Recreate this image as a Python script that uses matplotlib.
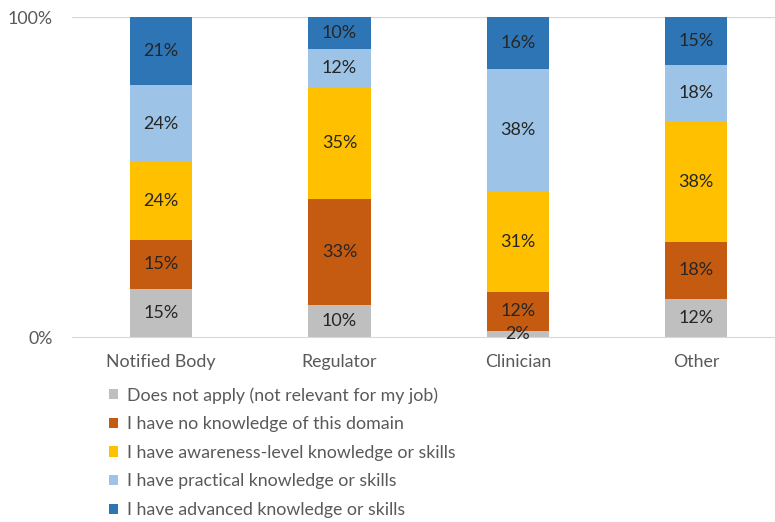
import matplotlib
matplotlib.use("Agg")
import matplotlib.pyplot as plt
import numpy as np

plt.rcParams['font.family'] = ['Lato', 'DejaVu Sans']

categories = ["Notified Body", "Regulator", "Clinician", "Other"]
series_names = [
    "Does not apply (not relevant for my job)",
    "I have no knowledge of this domain",
    "I have awareness-level knowledge or skills",
    "I have practical knowledge or skills",
    "I have advanced knowledge or skills",
]
does_not_apply = [15, 10, 2, 12]
no_knowledge = [15, 33, 12, 18]
awareness = [24, 35, 31, 38]
practical = [24, 12, 38, 18]
advanced = [21, 10, 16, 15]
colors = ["#BFBFBF", "#C55A11", "#FFC000", "#9DC3E6", "#2E75B6"]

series = np.array([does_not_apply, no_knowledge, awareness, practical, advanced], dtype=float)
totals = series.sum(axis=0)
shares = series / totals * 100  # 100% stacked

W, H = 775, 522
fig = plt.figure(figsize=(W / 100, H / 100), dpi=100)
ax = fig.add_axes([72 / W, (H - 337) / H, (775 - 72) / W, 320 / H])

x = np.arange(len(categories))
bottom = np.zeros(len(categories))
handles = []
for vals, pct, name, col in zip(series, shares, series_names, colors):
    bars = ax.bar(x, pct, 0.35, bottom=bottom, color=col, label=name, edgecolor="none")
    handles.append(bars)
    for xi, b, p, v in zip(x, bottom, pct, vals):
        ax.text(xi, b + p / 2, f"{int(v)}%", ha="center", va="center",
                fontsize=13, color="#262626")
    bottom += pct

ax.set_xlim(-0.5, -0.5 + (775 - 72) / 178.3)
ax.set_ylim(0, 100)
ax.set_yticks([0, 100])
ax.set_yticklabels(["0%", "100%"])
ax.axhline(100, color="#D9D9D9", lw=1, zorder=0)
ax.set_xticks(x)
ax.set_xticklabels(categories)
for s in ["top", "right", "left"]:
    ax.spines[s].set_visible(False)
ax.spines["bottom"].set_color("#D9D9D9")
ax.tick_params(axis="both", length=0, labelsize=12.8, colors="#595959")
ax.tick_params(axis="x", pad=12)
ax.tick_params(axis="y", pad=14)

leg = fig.legend(handles=handles, labels=series_names, loc="upper left",
                 bbox_to_anchor=(109 / W, (H - 387) / H), frameon=False,
                 fontsize=12.8, labelcolor="#595959", handlelength=0.5,
                 handleheight=0.5, handletextpad=0.5, labelspacing=0.71,
                 borderaxespad=0, borderpad=0)

fig.savefig("out.png", dpi=100)
